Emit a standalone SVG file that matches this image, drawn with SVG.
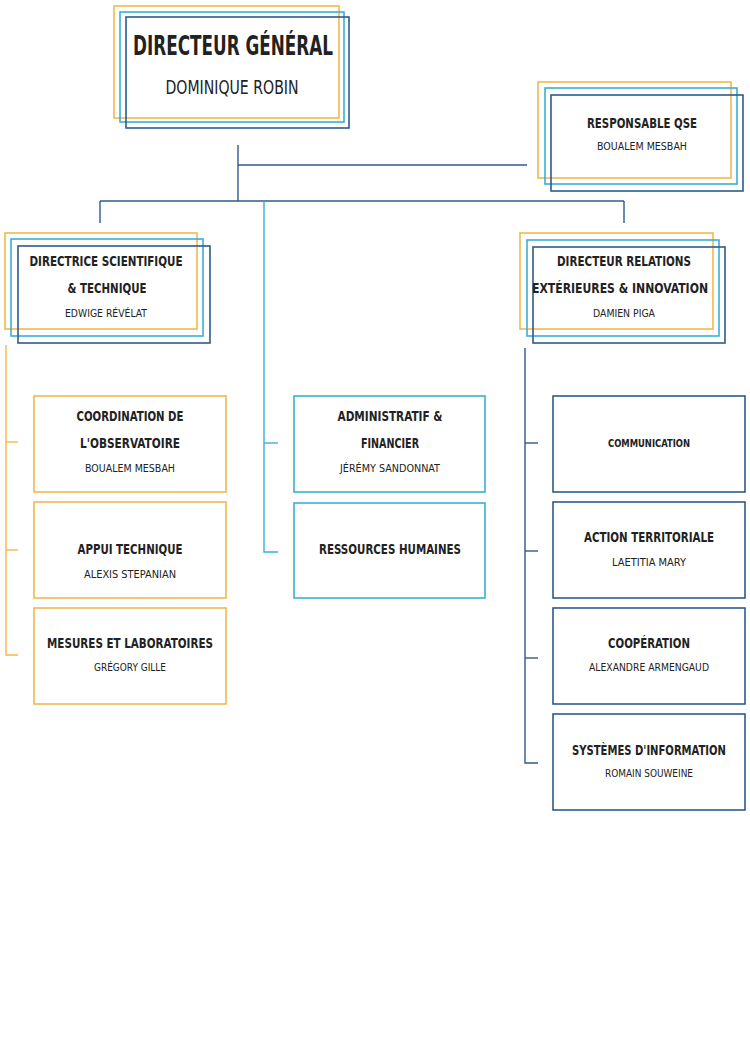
<svg xmlns="http://www.w3.org/2000/svg" width="750" height="1060" viewBox="0 0 750 1060">
<style>
rect{fill:none;stroke-width:1.6}
.o{stroke:#F2B84B}.c{stroke:#3AAFD6}.d{stroke:#2F5A8C}
line,polyline{fill:none;stroke-width:1.4}
text{font-family:"DejaVu Sans Condensed","DejaVu Sans",sans-serif;fill:#222;text-anchor:middle}
.t{font-weight:bold;font-size:14px}
.n{font-size:11px}
</style>
<rect width="750" height="1060" fill="#fff" stroke="none"/>
<g id="connectors">
<line class="d" x1="238" y1="145" x2="238" y2="201"/>
<line class="d" x1="238" y1="165" x2="527" y2="165"/>
<line class="d" x1="100" y1="201" x2="624" y2="201"/>
<line class="d" x1="100" y1="201" x2="100" y2="223"/>
<line class="d" x1="624" y1="201" x2="624" y2="223"/>
<polyline class="c" points="264,201 264,552 278,552"/>
<line class="c" x1="264" y1="443" x2="278" y2="443"/>
<polyline class="o" points="6,345 6,655 18,655"/>
<line class="o" x1="6" y1="442" x2="18" y2="442"/>
<line class="o" x1="6" y1="550" x2="18" y2="550"/>
<polyline class="d" points="525,348 525,763 538,763"/>
<line class="d" x1="525" y1="443" x2="538" y2="443"/>
<line class="d" x1="525" y1="551" x2="538" y2="551"/>
<line class="d" x1="525" y1="658" x2="538" y2="658"/>
</g>
<g id="dg">
<rect class="o" x="114" y="6" width="225" height="112"/>
<rect class="c" x="120" y="12" width="224" height="110"/>
<rect class="d" x="126" y="17" width="223" height="111"/>
<text x="233" y="55" font-weight="bold" font-size="27" textLength="200" lengthAdjust="spacingAndGlyphs">DIRECTEUR GÉNÉRAL</text>
<text x="232" y="94" font-size="19" textLength="133" lengthAdjust="spacingAndGlyphs">DOMINIQUE ROBIN</text>
</g>
<g id="qse">
<rect class="o" x="538" y="82" width="193" height="96"/>
<rect class="c" x="545" y="88" width="192" height="96"/>
<rect class="d" x="551" y="95" width="192" height="96"/>
<text class="t" x="642" y="128" textLength="110" lengthAdjust="spacingAndGlyphs">RESPONSABLE QSE</text>
<text class="n" x="642" y="150" textLength="90" lengthAdjust="spacingAndGlyphs">BOUALEM MESBAH</text>
</g>
<g id="dst">
<rect class="o" x="5" y="233" width="192" height="96"/>
<rect class="c" x="11" y="239" width="192" height="97"/>
<rect class="d" x="18" y="246" width="192" height="97"/>
<text class="t" x="106" y="266" textLength="153" lengthAdjust="spacingAndGlyphs">DIRECTRICE SCIENTIFIQUE</text>
<text class="t" x="107" y="293" textLength="79" lengthAdjust="spacingAndGlyphs">&amp; TECHNIQUE</text>
<text class="n" x="106" y="317" textLength="82" lengthAdjust="spacingAndGlyphs">EDWIGE RÉVÉLAT</text>
</g>
<g id="dri">
<rect class="o" x="520" y="233" width="193" height="96"/>
<rect class="c" x="527" y="240" width="192" height="96"/>
<rect class="d" x="533" y="247" width="192" height="96"/>
<text class="t" x="624" y="266" textLength="134" lengthAdjust="spacingAndGlyphs">DIRECTEUR RELATIONS</text>
<text class="t" x="620" y="293" textLength="176" lengthAdjust="spacingAndGlyphs">EXTÉRIEURES &amp; INNOVATION</text>
<text class="n" x="624" y="317" textLength="62" lengthAdjust="spacingAndGlyphs">DAMIEN PIGA</text>
</g>
<g id="coord">
<rect class="o" x="34" y="396" width="192" height="96"/>
<text class="t" x="130" y="421" textLength="107" lengthAdjust="spacingAndGlyphs">COORDINATION DE</text>
<text class="t" x="130" y="448" textLength="100" lengthAdjust="spacingAndGlyphs">L'OBSERVATOIRE</text>
<text class="n" x="130" y="472" textLength="90" lengthAdjust="spacingAndGlyphs">BOUALEM MESBAH</text>
</g>
<g id="appui">
<rect class="o" x="34" y="502" width="192" height="96"/>
<text class="t" x="130" y="554" textLength="105" lengthAdjust="spacingAndGlyphs">APPUI TECHNIQUE</text>
<text class="n" x="130" y="578" textLength="92" lengthAdjust="spacingAndGlyphs">ALEXIS STEPANIAN</text>
</g>
<g id="mesures">
<rect class="o" x="34" y="608" width="192" height="96"/>
<text class="t" x="130" y="648" textLength="166" lengthAdjust="spacingAndGlyphs">MESURES ET LABORATOIRES</text>
<text class="n" x="130" y="671" textLength="72" lengthAdjust="spacingAndGlyphs">GRÉGORY GILLE</text>
</g>
<g id="admin">
<rect class="c" x="294" y="396" width="191" height="96"/>
<text class="t" x="390" y="421" textLength="105" lengthAdjust="spacingAndGlyphs">ADMINISTRATIF &amp;</text>
<text class="t" x="390" y="448" textLength="58" lengthAdjust="spacingAndGlyphs">FINANCIER</text>
<text class="n" x="390" y="472" textLength="100" lengthAdjust="spacingAndGlyphs">JÉRÉMY SANDONNAT</text>
</g>
<g id="rh">
<rect class="c" x="294" y="503" width="191" height="95"/>
<text class="t" x="390" y="554" textLength="142" lengthAdjust="spacingAndGlyphs">RESSOURCES HUMAINES</text>
</g>
<g id="comm">
<rect class="d" x="553" y="396" width="192" height="96"/>
<text x="649" y="447" font-weight="bold" font-size="11" textLength="82" lengthAdjust="spacingAndGlyphs">COMMUNICATION</text>
</g>
<g id="action">
<rect class="d" x="553" y="502" width="192" height="96"/>
<text class="t" x="649" y="542" textLength="130" lengthAdjust="spacingAndGlyphs">ACTION TERRITORIALE</text>
<text class="n" x="649" y="566" textLength="74" lengthAdjust="spacingAndGlyphs">LAETITIA MARY</text>
</g>
<g id="coop">
<rect class="d" x="553" y="608" width="192" height="96"/>
<text class="t" x="649" y="648" textLength="82" lengthAdjust="spacingAndGlyphs">COOPÉRATION</text>
<text class="n" x="649" y="671" textLength="120" lengthAdjust="spacingAndGlyphs">ALEXANDRE ARMENGAUD</text>
</g>
<g id="si">
<rect class="d" x="553" y="714" width="192" height="96"/>
<text class="t" x="649" y="755" textLength="154" lengthAdjust="spacingAndGlyphs">SYSTÈMES D'INFORMATION</text>
<text class="n" x="649" y="777" textLength="88" lengthAdjust="spacingAndGlyphs">ROMAIN SOUWEINE</text>
</g>
</svg>
